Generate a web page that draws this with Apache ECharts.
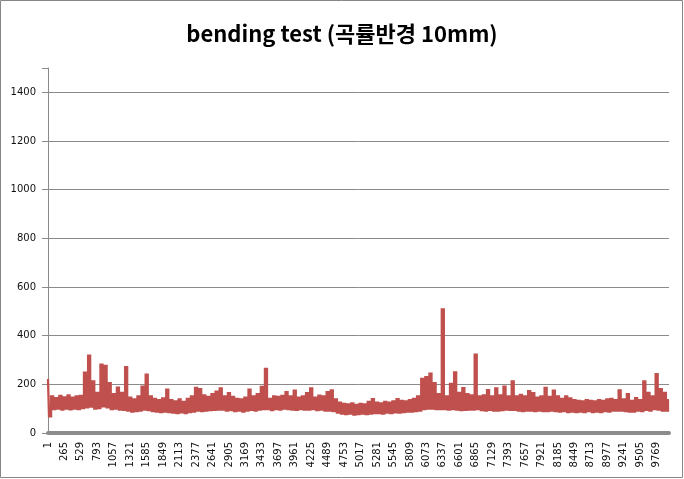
<!DOCTYPE html>
<html>
<head>
<meta charset="utf-8">
<script src="https://cdn.jsdelivr.net/npm/echarts@6/dist/echarts.min.js"></script>
<style>
html,body{margin:0;padding:0;background:#fff;}
#chart{width:684px;height:479px;}
</style>
</head>
<body>
<div id="chart"></div>
<script>
// Sample numbers along the measurement index (every 33rd record, starting at 1)
const sampleStep = 33;
const sampleCount = 303;
const categories = Array.from({length: sampleCount}, (_, k) => String(1 + sampleStep * k));

// Values (estimated; alternating peak / trough of the dense band)
const values = [
  222, 68, 150, 98, 143, 100, 152, 96, 146, 100,
  155, 97, 145, 100, 150, 98, 152, 102, 248, 105,
  318, 108, 212, 100, 165, 102, 281, 110, 276, 105,
  205, 98, 160, 100, 186, 96, 165, 95, 271, 92,
  145, 88, 138, 90, 150, 92, 190, 96, 240, 94,
  150, 90, 140, 88, 135, 86, 142, 88, 178, 86,
  135, 84, 130, 82, 138, 85, 128, 82, 140, 86,
  150, 88, 185, 92, 180, 90, 155, 92, 148, 94,
  160, 95, 170, 96, 183, 96, 150, 92, 164, 94,
  148, 90, 140, 92, 138, 88, 145, 92, 178, 95,
  150, 92, 160, 96, 189, 98, 263, 98, 140, 94,
  150, 98, 148, 96, 152, 100, 168, 98, 150, 96,
  174, 95, 145, 98, 150, 96, 164, 96, 183, 98,
  145, 94, 154, 96, 150, 92, 168, 92, 175, 90,
  138, 84, 125, 80, 120, 78, 118, 80, 122, 76,
  115, 78, 120, 80, 118, 78, 128, 80, 139, 82,
  125, 82, 122, 80, 128, 84, 125, 82, 130, 85,
  139, 84, 132, 86, 130, 88, 135, 88, 140, 90,
  150, 92, 222, 98, 230, 100, 244, 100, 205, 98,
  160, 98, 508, 98, 150, 96, 202, 98, 249, 96,
  165, 94, 184, 95, 160, 96, 155, 96, 322, 98,
  150, 94, 155, 92, 176, 95, 150, 92, 183, 92,
  155, 94, 190, 96, 150, 95, 212, 95, 150, 92,
  157, 90, 150, 92, 172, 92, 164, 90, 145, 92,
  150, 90, 185, 90, 148, 92, 174, 90, 150, 88,
  140, 90, 150, 86, 142, 88, 135, 86, 132, 88,
  130, 86, 135, 90, 132, 86, 130, 88, 135, 86,
  132, 90, 138, 88, 140, 92, 135, 92, 175, 92,
  138, 90, 160, 88, 132, 88, 143, 92, 135, 90,
  212, 95, 165, 92, 150, 98, 242, 96, 180, 92,
  165, 92, 135
];

const titleText = 'bending test (곡률반경 10mm)';
const yMin = 0, yMax = 1500, yInterval = 200;

const chart = echarts.init(document.getElementById('chart'), null, {renderer: 'canvas'});
const gridColor = '#8a8a8a';
chart.setOption({
  animation: false,
  backgroundColor: '#fff',
  title: {
    text: titleText,
    left: 'center',
    top: 18,
    textStyle: {
      fontFamily: '"Noto Sans CJK KR", "Noto Sans", sans-serif',
      fontSize: 22,
      fontWeight: 'bold',
      color: '#000'
    }
  },
  graphic: [{
    type: 'rect',
    shape: {x: 0.5, y: 0.5, width: 682, height: 477},
    style: {fill: 'none', stroke: '#868686', lineWidth: 1},
    silent: true
  }],
  grid: {left: 48, right: 15, top: 68, bottom: 46, containLabel: false},
  xAxis: {
    type: 'category',
    data: categories,
    boundaryGap: false,
    offset: 2,
    axisLine: {show: true, lineStyle: {color: '#8c8c8c', width: 4}},
    axisTick: {show: false},
    axisLabel: {
      interval: 7,
      rotate: 90,
      margin: 7,
      fontFamily: '"DejaVu Sans", sans-serif',
      fontSize: 10,
      color: '#111'
    },
    splitLine: {show: false}
  },
  yAxis: {
    type: 'value',
    min: yMin,
    max: yMax,
    interval: yInterval,
    axisLine: {show: true, lineStyle: {color: gridColor, width: 1}},
    axisTick: {show: true, length: 6, lineStyle: {color: gridColor}},
    axisLabel: {
      margin: 12,
      fontFamily: '"DejaVu Sans", sans-serif',
      fontSize: 10,
      color: '#111',
      formatter: v => (v % yInterval === 0 ? String(v) : '')
    },
    splitLine: {
      show: true,
      lineStyle: {
        color: [gridColor, gridColor, gridColor, gridColor, gridColor, gridColor, gridColor, gridColor, 'rgba(0,0,0,0)'],
        width: 1
      }
    }
  },
  series: [{
    type: 'line',
    data: values,
    step: 'middle',
    showSymbol: false,
    symbol: 'none',
    sampling: null,
    lineStyle: {color: '#C0504D', width: 2.3, join: 'miter'},
    itemStyle: {color: '#C0504D'}
  }]
});
</script>
</body>
</html>
